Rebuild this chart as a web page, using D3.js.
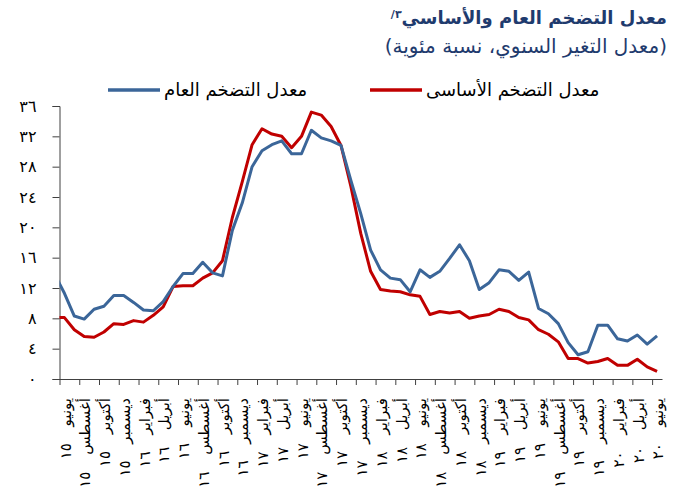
<!DOCTYPE html>
<html>
<head>
<meta charset="utf-8">
<script src="https://cdn.jsdelivr.net/npm/d3@7"></script>
<style>
  body { margin: 0; background: #fff; }
  text { font-family: "DejaVu Sans", sans-serif; }
</style>
</head>
<body>
<div id="chart"></div>
<script>
// month names shown on the axis, first entry is May 2015 (only partly visible, clipped by the axis)
const monthNames = ["يناير", "فبراير", "مارس", "أبريل", "مايو", "يونيو", "يوليو", "أغسطس", "سبتمبر", "أكتوبر", "نوفمبر", "ديسمبر"];
const startYear = 15, startMonth = 4; // May 2015

// headline inflation (y/y %), May 2015 .. June 2020
const headline = [13.8,
  11.3, 8.3, 7.9, 9.2, 9.6, 11.0, 11.0, 10.1, 9.1, 9.0,
  10.2, 12.2, 13.9, 13.9, 15.4, 14.0, 13.6, 19.6, 23.2, 28.0,
  30.1, 30.9, 31.4, 29.7, 29.7, 32.8, 31.8, 31.4, 30.8, 26.2,
  21.8, 17.0, 14.4, 13.3, 13.1, 11.5, 14.4, 13.4, 14.2, 15.9,
  17.7, 15.6, 11.8, 12.7, 14.4, 14.2, 13.0, 14.1, 9.3, 8.6,
  7.3, 4.8, 3.2, 3.6, 7.1, 7.1, 5.3, 5.0, 5.8, 4.6,
  5.7];

// core inflation (y/y %), same months
const core = [8.1,
  8.1, 6.5, 5.6, 5.5, 6.2, 7.3, 7.2, 7.7, 7.5, 8.4,
  9.5, 12.2, 12.3, 12.3, 13.3, 14.0, 15.6, 21.3, 26.0, 30.9,
  33.0, 32.3, 32.0, 30.5, 32.0, 35.2, 34.8, 33.3, 30.8, 25.4,
  19.2, 14.2, 11.8, 11.6, 11.5, 11.1, 10.9, 8.5, 8.9, 8.7,
  8.9, 8.0, 8.3, 8.5, 9.2, 8.9, 8.1, 7.8, 6.5, 5.9,
  4.9, 2.7, 2.7, 2.1, 2.3, 2.7, 1.8, 1.8, 2.6, 1.6,
  1.0];

const yTicks = [0, 4, 8, 12, 16, 20, 24, 28, 32, 36];

const seriesNames = ["معدل التضخم العام", "معدل التضخم الأساسى"];
const seriesColors = ["#3b6699", "#c00000"];

const title = "معدل التضخم العام والأساسي";
const titleNote = "٣/";
const subtitle = "(معدل التغير السنوي، نسبة مئوية)";

const toArabic = (s) => String(s).replace(/\d/g, (d) => "٠١٢٣٤٥٦٧٨٩"[d]);

// month label for index i (index 0 = May 2015)
const monthLabel = (i) => {
  const m = startMonth + i;
  return monthNames[m % 12] + " " + toArabic(startYear + Math.floor(m / 12));
};

// set the dimensions of the plot area
const width = 679, height = 504;
const plot = { left: 59.5, right: 662, top: 106, bottom: 379 };

const svg = d3
  .select("#chart")
  .append("svg")
  .attr("width", width)
  .attr("height", height);

// title block (right aligned)
const titleText = svg
  .append("text")
  .attr("x", 667)
  .attr("y", 24)
  .attr("text-anchor", "end")
  .attr("fill", "#1f3b6e")
  .style("font-size", "18px")
  .style("font-weight", "bold")
  .text(title);
titleText
  .append("tspan")
  .attr("baseline-shift", "super")
  .style("font-size", "11px")
  .text(titleNote + "\u200F");

svg
  .append("text")
  .attr("x", 667)
  .attr("y", 53)
  .attr("text-anchor", "end")
  .attr("fill", "#1f3b6e")
  .style("font-size", "20px")
  .text(subtitle);

// scales: categories sit between tick marks, index 0 is the clipped month
const x = d3
  .scaleLinear()
  .domain([0.5, headline.length - 0.5])
  .range([plot.left, plot.right]);
const y = d3.scaleLinear().domain([0, 36]).range([plot.bottom, plot.top]);

// Y axis
const yAxis = svg
  .append("g")
  .attr("transform", `translate(${plot.left},0)`)
  .call(
    d3.axisLeft(y).tickValues(yTicks).tickSize(7).tickPadding(16).tickFormat(toArabic)
  );
yAxis.select(".domain").attr("stroke", "#404040");
yAxis.selectAll(".tick line").attr("stroke", "#404040");
yAxis
  .selectAll(".tick text")
  .style("font-family", "'DejaVu Serif', 'DejaVu Sans', serif")
  .style("font-size", "16px")
  .attr("fill", "#000");

// X axis: ticks every two months
const tickEdges = d3.range(0.5, headline.length, 2);
const xAxis = svg
  .append("g")
  .attr("transform", `translate(0,${plot.bottom})`)
  .call(d3.axisBottom(x).tickValues(tickEdges).tickSize(6).tickSizeOuter(0).tickFormat(""));
xAxis.select(".domain").attr("stroke", "#404040");
xAxis.selectAll(".tick line").attr("stroke", "#404040");

// month labels, rotated, every other month starting June 2015
const labelIdx = d3.range(1, headline.length, 2);
svg
  .append("g")
  .selectAll("text")
  .data(labelIdx)
  .join("text")
  .attr("transform", (i) => `translate(${x(i) + 1},398) rotate(-90)`)
  .attr("text-anchor", "end")
  .attr("dy", "0.35em")
  .style("font-size", "15px")
  .style("word-spacing", "12px")
  .attr("fill", "#000")
  .text((i) => monthLabel(i));

// clip the lines to the plot area
svg
  .append("clipPath")
  .attr("id", "plot-clip")
  .append("rect")
  .attr("x", plot.left)
  .attr("y", 0)
  .attr("width", plot.right - plot.left)
  .attr("height", height);

const line = d3
  .line()
  .x((d, i) => x(i))
  .y((d) => y(d));

// Add the lines (core first, headline on top)
[core, headline].forEach((values, n) => {
  svg
    .append("path")
    .datum(values)
    .attr("clip-path", "url(#plot-clip)")
    .attr("fill", "none")
    .attr("stroke", n === 0 ? seriesColors[1] : seriesColors[0])
    .attr("stroke-width", 3)
    .attr("stroke-linejoin", "round")
    .attr("d", line);
});

// legend
const legendX = [108, 370];
const legend = svg
  .selectAll(".legend")
  .data(seriesNames)
  .join("g")
  .attr("class", "legend")
  .attr("transform", (d, i) => `translate(${legendX[i]},90)`);
legend
  .append("line")
  .attr("x1", 0)
  .attr("x2", 52)
  .attr("stroke", (d, i) => seriesColors[i])
  .attr("stroke-width", 3.5);
legend
  .append("text")
  .attr("x", 56)
  .attr("y", 6)
  .style("font-size", "18px")
  .attr("fill", "#000")
  .text((d) => d);
</script>
</body>
</html>
